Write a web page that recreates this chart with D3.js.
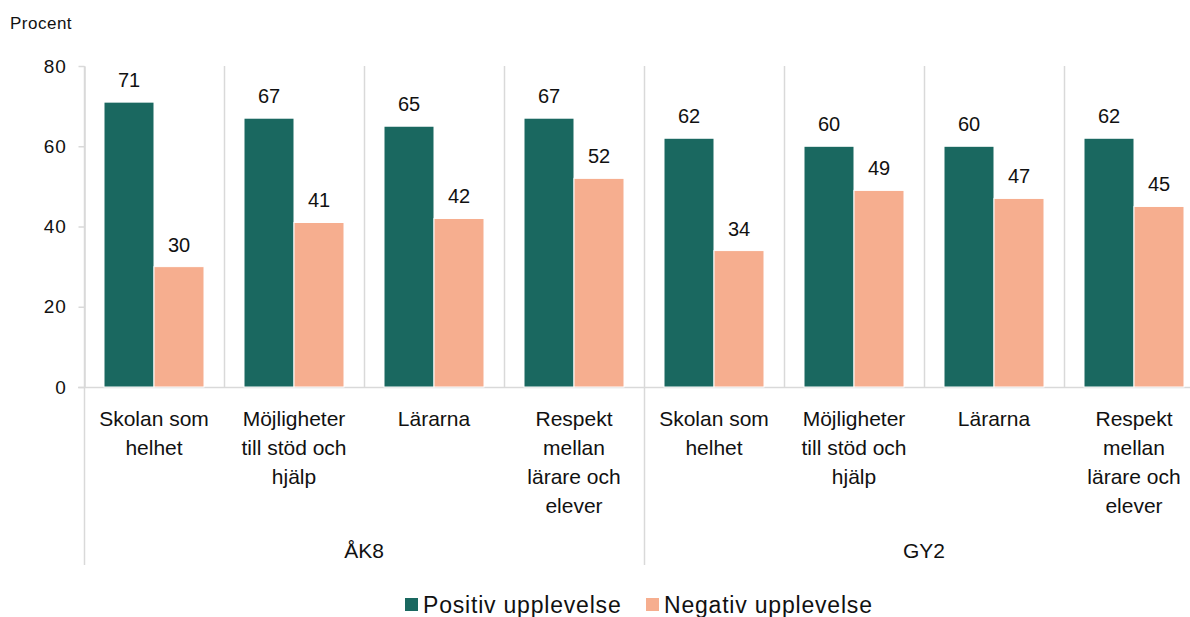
<!DOCTYPE html>
<html><head><meta charset="utf-8">
<script src="https://cdn.jsdelivr.net/npm/d3@7"></script>
<style>
body{margin:0;background:#fff;}
text{font-family:"Liberation Sans",Arial,sans-serif;fill:#111;}
</style></head>
<body><svg id="c" width="1190" height="617"></svg>
<script>
const groups = ["ÅK8", "GY2"];
const categories = ["Skolan som\nhelhet", "Möjligheter\ntill stöd och\nhjälp", "Lärarna", "Respekt\nmellan\nlärare och\nelever"];
const seriesNames = ["Positiv upplevelse", "Negativ upplevelse"];
const positiv = [71, 67, 65, 67, 62, 60, 60, 62];
const negativ = [30, 41, 42, 52, 34, 49, 47, 45];
const yTicks = [0, 20, 40, 60, 80];
const colors = ["#1a6860", "#f6ae8f"];

(function(){
const svg = d3.select("#c");
const mLeft = 84, mTop = 66, mBottom = 387, slotW = 140;
const slots = [];
groups.forEach((g, gi) => categories.forEach((c, ci) => slots.push({key: g + "|" + c, group: g, cat: c})));
const x0 = d3.scaleBand().domain(slots.map(s => s.key)).range([mLeft, mLeft + slotW * slots.length]).padding(0);
const x1 = d3.scaleBand().domain(seriesNames).range([20, 120]).padding(0);
const y = d3.scaleLinear().domain([0, 80]).range([mBottom, mTop]);
const grid = "#d9d9d9";

for (let i = 0; i <= slots.length; i++) {
  const xv = Math.round(mLeft + i * slotW) + 0.5;
  const isGroup = i % categories.length === 0;
  svg.append("line").attr("x1", xv).attr("x2", xv).attr("y1", mTop).attr("y2", isGroup ? 565 : mBottom)
    .attr("stroke", grid).attr("stroke-width", 1.5);
}

const yAxis = svg.append("g").attr("transform", `translate(${mLeft + 0.5},0)`)
  .call(d3.axisLeft(y).tickValues(yTicks).tickSize(6).tickSizeOuter(0).tickPadding(12));
yAxis.select(".domain").attr("stroke", grid).attr("stroke-width", 1.5);
yAxis.selectAll(".tick line").attr("stroke", grid).attr("stroke-width", 1.5);
yAxis.selectAll(".tick text").attr("font-size", 19).attr("letter-spacing", 0.8).attr("font-family", "Liberation Sans, Arial, sans-serif").attr("fill", "#111");

svg.append("line").attr("x1", mLeft - 6).attr("x2", mLeft + slotW * slots.length).attr("y1", mBottom + 0.5).attr("y2", mBottom + 0.5)
  .attr("stroke", grid).attr("stroke-width", 1.5);

const data = slots.map((s, i) => ({...s, vals: [positiv[i], negativ[i]]}));
const sg = svg.selectAll("g.slot").data(data).join("g").attr("class", "slot")
  .attr("transform", d => `translate(${x0(d.key)},0)`);
sg.selectAll("rect").data(d => d.vals.map((v, k) => ({v, name: seriesNames[k], k}))).join("rect")
  .attr("x", d => x1(d.name)).attr("width", x1.bandwidth())
  .attr("y", d => y(d.v)).attr("height", d => y(0) - y(d.v))
  .attr("fill", d => colors[d.k]).attr("stroke", "#fff").attr("stroke-width", 1);
sg.selectAll("text.val").data(d => d.vals.map((v, k) => ({v, name: seriesNames[k]}))).join("text").attr("class", "val")
  .attr("x", d => x1(d.name) + x1.bandwidth() / 2).attr("y", d => y(d.v) - 15)
  .attr("text-anchor", "middle").attr("font-size", 20).text(d => d.v);

sg.each(function(d) {
  const lines = d.cat.split("\n");
  const t = d3.select(this).append("text").attr("text-anchor", "middle").attr("font-size", 21);
  lines.forEach((ln, i) => t.append("tspan").attr("x", slotW / 2).attr("y", 426 + i * 29).text(ln));
});

groups.forEach(g => {
  const start = x0(g + "|" + categories[0]);
  svg.append("text").attr("x", start + slotW * categories.length / 2).attr("y", 558)
    .attr("text-anchor", "middle").attr("font-size", 21).text(g);
});

svg.append("text").attr("x", 10).attr("y", 29).attr("font-size", 17).attr("letter-spacing", 0.5).text("Procent");

const legX = [405, 646];
seriesNames.forEach((n, i) => {
  svg.append("rect").attr("x", legX[i]).attr("y", 598).attr("width", 13).attr("height", 13).attr("fill", colors[i]);
  svg.append("text").attr("x", legX[i] + 18).attr("y", 613).attr("font-size", 23).attr("letter-spacing", 0.8).text(n);
});
})();
</script></body></html>
